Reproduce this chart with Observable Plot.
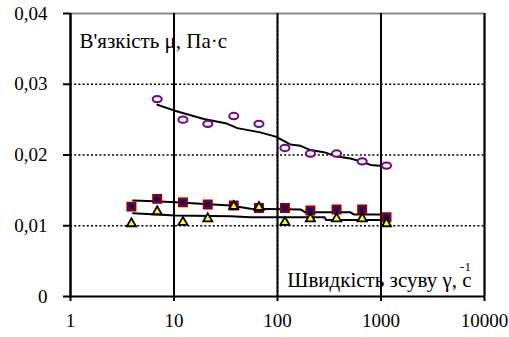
<!DOCTYPE html>
<html>
<head>
<meta charset="utf-8">
<script src="https://cdn.jsdelivr.net/npm/d3@7"></script>
<script src="https://cdn.jsdelivr.net/npm/@observablehq/plot@0.6"></script>
</head>
<body style="margin:0;background:#fff">
<div id="chart"></div>
<script>
// Shear rates (1/s)
const rates = [3.88, 6.88, 12.2, 21.2, 37.8, 66.2, 118, 208, 372, 658, 1130];
// Series 1 (purple ellipses) – starts from 2nd rate
const purpleX = rates.slice(1);
const purpleY = [0.0279, 0.0250, 0.0244, 0.0255, 0.0244, 0.0210, 0.0202, 0.0202, 0.0191, 0.0185];
// Series 2 (squares)
const squareY = [0.0127, 0.0138, 0.0133, 0.0130, 0.01285, 0.0125, 0.0125, 0.01215, 0.0123, 0.0123, 0.0112];
// Series 3 (triangles)
const triangleY = [0.0103, 0.0120, 0.0105, 0.0110, 0.01275, 0.0126, 0.0105, 0.0110, 0.0110, 0.0110, 0.0103];

// Trend lines
const purpleLineX = [6.9, 10, 19.4, 31.5, 41, 68, 96, 133, 167, 208, 280, 377, 507, 634, 792, 1130];
const purpleLineY = [0.0271, 0.0263, 0.0251, 0.0245, 0.0238, 0.0232, 0.0226, 0.0215, 0.0213, 0.0207, 0.0204, 0.0198, 0.0195, 0.0191, 0.0186, 0.0184];
const squareLineX = [4.03, 6.4, 10.3, 18, 35, 55, 167, 186, 507, 546, 1105];
const squareLineY = [0.01356, 0.01346, 0.01332, 0.0131, 0.01285, 0.0124, 0.0123, 0.0119, 0.0119, 0.0116, 0.0116];
const triangleLineX = [4.03, 10.3, 35, 55, 285, 295, 1105];
const triangleLineY = [0.01177, 0.01144, 0.01134, 0.0112, 0.0112, 0.0108, 0.0108];

const xTicks = [1, 10, 100, 1000, 10000];
const yTicks = [0, 0.01, 0.02, 0.03, 0.04];
const xGrid = [10, 100, 1000];
const yGrid = [0.01, 0.02, 0.03];

const yLabel = "В'язкість μ, Па·с";
const xLabel = "Швидкість зсуву γ, с";
const xLabelSup = "-1";

const purple = purpleX.map((x, i) => ({x, y: purpleY[i]}));
const squares = rates.map((x, i) => ({x, y: squareY[i]}));
const triangles = rates.map((x, i) => ({x, y: triangleY[i]}));
const purpleLine = purpleLineX.map((x, i) => ({x, y: purpleLineY[i]}));
const squareLine = squareLineX.map((x, i) => ({x, y: squareLineY[i]}));
const triangleLine = triangleLineX.map((x, i) => ({x, y: triangleLineY[i]}));

// custom ellipse symbol
const ellipse = {
  draw(ctx, size) {
    const r = Math.sqrt(size / Math.PI);
    const rx = r * 1.2, ry = r * 0.85, k = 0.5523;
    ctx.moveTo(rx, 0);
    ctx.bezierCurveTo(rx, ry * k, rx * k, ry, 0, ry);
    ctx.bezierCurveTo(-rx * k, ry, -rx, ry * k, -rx, 0);
    ctx.bezierCurveTo(-rx, -ry * k, -rx * k, -ry, 0, -ry);
    ctx.bezierCurveTo(rx * k, -ry, rx, -ry * k, rx, 0);
    ctx.closePath();
  }
};

const fmtY = d => d === 0 ? "0" : d.toFixed(2).replace(".", ",");
const serif = "Liberation Serif";

const chart = Plot.plot({
  width: 509,
  height: 337,
  marginLeft: 70,
  marginRight: 25,
  marginTop: 13,
  marginBottom: 41,
  style: {fontFamily: serif, fontSize: "19px"},
  x: {type: "log", domain: [1, 10000], label: null},
  y: {domain: [0, 0.04], label: null},
  marks: [
    Plot.ruleY(yGrid, {stroke: "black", strokeWidth: 1.6, strokeDasharray: "2,2.2"}),
    Plot.ruleX(xGrid, {stroke: "black", strokeWidth: 1.6, strokeDasharray: "2,2.2"}),
    Plot.ruleY([0.04], {stroke: "#888", strokeWidth: 2}),
    Plot.ruleX([10000], {stroke: "#888", strokeWidth: 2}),
    Plot.ruleX([1], {stroke: "black", strokeWidth: 2}),
    Plot.ruleY([0], {stroke: "black", strokeWidth: 2}),
    Plot.axisY({ticks: yTicks, tickFormat: fmtY, tickSize: 7, tickPadding: 16, strokeWidth: 2, stroke: "black", label: null, fontFamily: serif, fontSize: 19}),
    Plot.axisX({ticks: xTicks, tickFormat: d3.format("d"), tickSize: 5, tickPadding: 12, strokeWidth: 2, stroke: "black", label: null, fontFamily: serif, fontSize: 19}),
    Plot.tickX(xTicks, {x: d => d, y1: 0, y2: 0.0005, stroke: "black", strokeWidth: 2}),
    Plot.line(purpleLine, {x: "x", y: "y", stroke: "black", strokeWidth: 2}),
    Plot.line(squareLine, {x: "x", y: "y", stroke: "black", strokeWidth: 2}),
    Plot.line(triangleLine, {x: "x", y: "y", stroke: "black", strokeWidth: 2}),
    Plot.dot(purple, {x: "x", y: "y", symbol: ellipse, r: 3.8, fill: "#ccffff", stroke: "#800080", strokeWidth: 2}),
    Plot.dot(squares, {x: "x", y: "y", symbol: "square", r: 4.2, fill: "#000080", stroke: "#8b0000", strokeWidth: 2.5}),
    Plot.dot(triangles, {x: "x", y: "y", symbol: "triangle", r: 3.4, fill: "#ffff00", stroke: "black", strokeWidth: 1.8}),
    Plot.text([yLabel], {frameAnchor: "top-left", dx: 9, dy: 20, textAnchor: "start", fontSize: 21, fontFamily: serif}),
    Plot.text([xLabel], {frameAnchor: "bottom-right", dx: -13, dy: -10, textAnchor: "end", fontSize: 21, fontFamily: serif}),
    Plot.text([xLabelSup], {frameAnchor: "bottom-right", dx: -19, dy: -26, textAnchor: "middle", fontSize: 13, fontFamily: serif})
  ]
});
document.getElementById("chart").appendChild(chart);
</script>
</body>
</html>
